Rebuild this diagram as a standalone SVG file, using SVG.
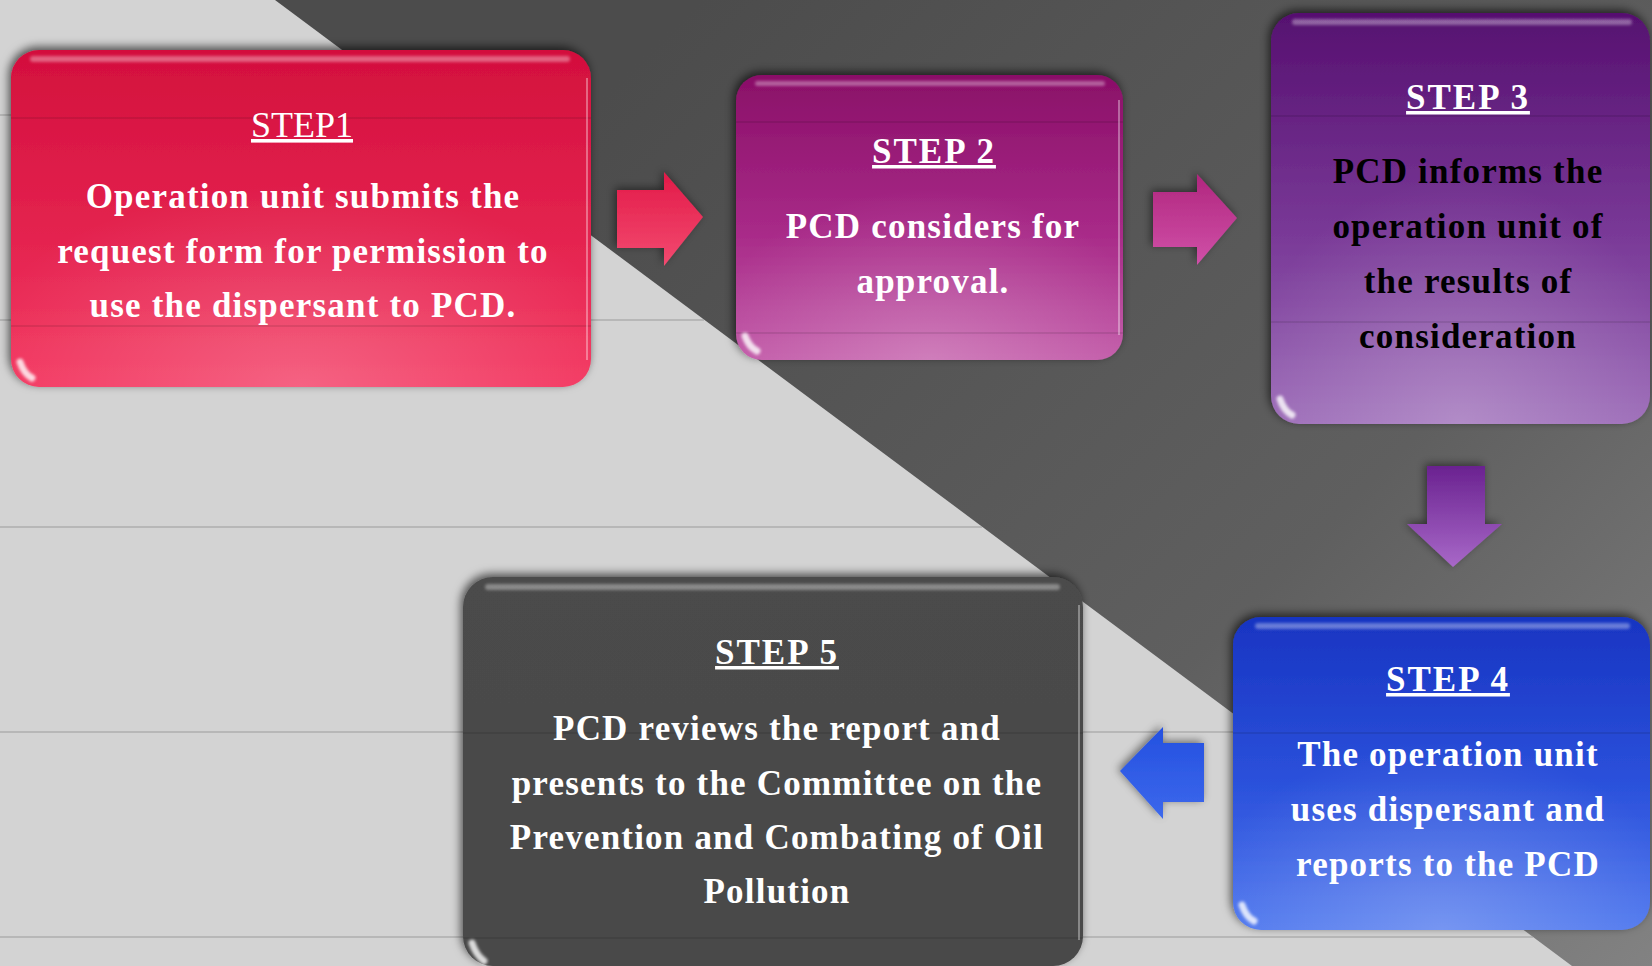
<svg xmlns="http://www.w3.org/2000/svg" width="1652" height="966" viewBox="0 0 1652 966">
<defs>
<style>
.hd{font-family:"Liberation Serif","Times New Roman",serif;font-size:35px;font-weight:bold;fill:#fff;text-anchor:middle;letter-spacing:2px;text-decoration:underline;}
.hd1{font-family:"Liberation Serif","Times New Roman",serif;font-size:36px;font-weight:normal;fill:#fff;text-anchor:middle;text-decoration:underline;}
.tx{font-family:"Liberation Serif","Times New Roman",serif;font-size:35px;font-weight:bold;fill:#fff;text-anchor:middle;letter-spacing:1.2px;}
.blk{fill:#000;}
.bgline{stroke:#9c9c9c;stroke-width:1.2;}
.inline{stroke:#000;stroke-opacity:0.12;stroke-width:1.5;}
.gloss{fill:#fff;opacity:0.35;filter:url(#soft);}
.edge{stroke:#fff;stroke-opacity:0.35;stroke-width:2;fill:none;}
.corner{fill:none;stroke:#fff;stroke-width:7;stroke-linecap:round;opacity:0.8;filter:url(#soft);}
</style>
<linearGradient id="dark" x1="700" y1="0" x2="1652" y2="966" gradientUnits="userSpaceOnUse">
<stop offset="0" stop-color="#4c4c4c"/><stop offset="0.6" stop-color="#5f5f5f"/><stop offset="1" stop-color="#828282"/>
</linearGradient>
<linearGradient id="g1" x1="0" y1="0" x2="0" y2="1"><stop offset="0" stop-color="#d30f3d"/><stop offset="0.55" stop-color="#e4234f"/><stop offset="1" stop-color="#f3365f"/></linearGradient>
<linearGradient id="g2" x1="0" y1="0" x2="0" y2="1"><stop offset="0" stop-color="#8a0f68"/><stop offset="0.55" stop-color="#a82a88"/><stop offset="1" stop-color="#c25aa8"/></linearGradient>
<linearGradient id="g3" x1="0" y1="0" x2="0" y2="1"><stop offset="0" stop-color="#561070"/><stop offset="0.55" stop-color="#7a3a98"/><stop offset="1" stop-color="#9c6cb8"/></linearGradient>
<linearGradient id="g4" x1="0" y1="0" x2="0" y2="1"><stop offset="0" stop-color="#1834c2"/><stop offset="0.55" stop-color="#2c52dc"/><stop offset="1" stop-color="#5078ee"/></linearGradient>
<linearGradient id="g5" x1="0" y1="0" x2="0" y2="1"><stop offset="0" stop-color="#4b4b4b"/><stop offset="1" stop-color="#484848"/></linearGradient>
<radialGradient id="glow" cx="0.5" cy="1" r="0.6"><stop offset="0" stop-color="#fff" stop-opacity="0.22"/><stop offset="1" stop-color="#fff" stop-opacity="0"/></radialGradient>
<linearGradient id="a1" x1="0" y1="0" x2="0" y2="1"><stop offset="0" stop-color="#e21a48"/><stop offset="1" stop-color="#f34a70"/></linearGradient>
<linearGradient id="a2" x1="0" y1="0" x2="0" y2="1"><stop offset="0" stop-color="#b0267e"/><stop offset="1" stop-color="#d050a8"/></linearGradient>
<linearGradient id="a3" x1="0" y1="0" x2="0" y2="1"><stop offset="0" stop-color="#6a2290"/><stop offset="1" stop-color="#a868c8"/></linearGradient>
<linearGradient id="a4" x1="0" y1="0" x2="0" y2="1"><stop offset="0" stop-color="#2450e0"/><stop offset="1" stop-color="#3c68ec"/></linearGradient>
<filter id="sh" x="-10%" y="-10%" width="120%" height="120%">
<feGaussianBlur in="SourceAlpha" stdDeviation="5"/>
<feOffset dx="-2" dy="-3" result="b"/>
<feFlood flood-color="#000" flood-opacity="0.65"/>
<feComposite in2="b" operator="in"/>
<feMerge><feMergeNode/><feMergeNode in="SourceGraphic"/></feMerge>
</filter>
<filter id="ash" x="-30%" y="-30%" width="160%" height="160%">
<feGaussianBlur in="SourceAlpha" stdDeviation="4"/>
<feOffset dx="-2" dy="-2" result="b"/>
<feFlood flood-color="#000" flood-opacity="0.5"/>
<feComposite in2="b" operator="in"/>
<feMerge><feMergeNode/><feMergeNode in="SourceGraphic"/></feMerge>
</filter>
<filter id="soft" x="-50%" y="-50%" width="200%" height="200%"><feGaussianBlur stdDeviation="1.5"/></filter>
</defs>

<g id="background">
<rect x="0" y="0" width="1652" height="966" fill="#d3d3d3"/>
<polygon points="275,0 1652,0 1652,966 1572,966" fill="url(#dark)"/>
<line class="bgline" x1="0" y1="115" x2="428" y2="115"/>
<line class="bgline" x1="0" y1="320" x2="704" y2="320"/>
<line class="bgline" x1="0" y1="527" x2="982" y2="527"/>
<line class="bgline" x1="0" y1="732" x2="1257" y2="732"/>
<line class="bgline" x1="0" y1="937" x2="1533" y2="937"/>
</g>

<g id="connectors">
<path d="M617,190 H664 V172 L703,217 L664,266 V248 H617 Z" fill="url(#a1)" filter="url(#ash)"/>
<path d="M1153,192 H1197 V174 L1237,218 L1197,265 V247 H1153 Z" fill="url(#a2)" filter="url(#ash)"/>
<path d="M1427,466 H1485 V524 H1502 L1453,567 L1407,524 H1427 Z" fill="url(#a3)" filter="url(#ash)"/>
<path d="M1204,743 V802 H1163 V819 L1120,771 L1163,727 V743 Z" fill="url(#a4)" filter="url(#ash)"/>
</g>

<g id="step1">
<rect x="11" y="50" width="580" height="337" rx="28" fill="url(#g1)" filter="url(#sh)"/>
<rect x="11" y="50" width="580" height="337" rx="28" fill="url(#glow)"/>
<rect class="gloss" x="30" y="56" width="540" height="6" rx="3"/>
<line class="inline" x1="11" y1="118" x2="591" y2="118"/>
<line class="inline" x1="11" y1="326" x2="591" y2="326"/>
<path class="edge" d="M587,78 V360"/>
<path class="corner" d="M20,362 Q24,374 32,378"/>
<text class="hd1" x="302" y="137">STEP1</text>
<text class="tx" x="303" y="208">Operation unit submits the</text>
<text class="tx" x="303" y="263">request form for permission to</text>
<text class="tx" x="303" y="317">use the dispersant to PCD.</text>
</g>

<g id="step2">
<rect x="736" y="75" width="387" height="285" rx="26" fill="url(#g2)" filter="url(#sh)"/>
<rect x="736" y="75" width="387" height="285" rx="26" fill="url(#glow)"/>
<rect class="gloss" x="755" y="81" width="350" height="5" rx="2.5"/>
<line class="inline" x1="736" y1="122" x2="1123" y2="122"/>
<line class="inline" x1="736" y1="333" x2="1123" y2="333"/>
<path class="edge" d="M1119,100 V335"/>
<path class="corner" d="M745,336 Q749,347 757,351"/>
<text class="hd" x="934" y="163">STEP 2</text>
<text class="tx" x="933" y="238">PCD considers for</text>
<text class="tx" x="933" y="293">approval.</text>
</g>

<g id="step3">
<rect x="1271" y="13" width="379" height="411" rx="28" fill="url(#g3)" filter="url(#sh)"/>
<rect x="1271" y="13" width="379" height="411" rx="28" fill="url(#glow)"/>
<rect class="gloss" x="1292" y="19" width="340" height="6" rx="3"/>
<line class="inline" x1="1271" y1="116" x2="1650" y2="116"/>
<line class="inline" x1="1271" y1="322" x2="1650" y2="322"/>
<path class="corner" d="M1280,399 Q1284,411 1292,415"/>
<text class="hd" x="1468" y="109">STEP 3</text>
<text class="tx blk" x="1468" y="183">PCD informs the</text>
<text class="tx blk" x="1468" y="238">operation unit of</text>
<text class="tx blk" x="1468" y="293">the results of</text>
<text class="tx blk" x="1468" y="348">consideration</text>
</g>

<g id="step4">
<rect x="1233" y="617" width="417" height="313" rx="28" fill="url(#g4)" filter="url(#sh)"/>
<rect x="1233" y="617" width="417" height="313" rx="28" fill="url(#glow)"/>
<rect class="gloss" x="1255" y="623" width="375" height="6" rx="3"/>
<line class="inline" x1="1233" y1="733" x2="1650" y2="733"/>
<path class="corner" d="M1242,905 Q1246,917 1254,921"/>
<text class="hd" x="1448" y="691">STEP 4</text>
<text class="tx" x="1448" y="766">The operation unit</text>
<text class="tx" x="1448" y="821">uses dispersant and</text>
<text class="tx" x="1448" y="876">reports to the PCD</text>
</g>

<g id="step5">
<rect x="463" y="577" width="620" height="389" rx="30" fill="url(#g5)" filter="url(#sh)"/>
<rect class="gloss" x="485" y="584" width="575" height="6" rx="3" opacity="0.25"/>
<line class="inline" x1="463" y1="733" x2="1083" y2="733"/>
<line class="inline" x1="463" y1="938" x2="1083" y2="938"/>
<path class="edge" d="M1079,605 V940" stroke-opacity="0.55"/>
<path class="corner" d="M472,943 Q476,955 484,961"/>
<text class="hd" x="777" y="664">STEP 5</text>
<text class="tx" x="777" y="740">PCD reviews the report and</text>
<text class="tx" x="777" y="795">presents to the Committee on the</text>
<text class="tx" x="777" y="849">Prevention and Combating of Oil</text>
<text class="tx" x="777" y="903">Pollution</text>
</g>
</svg>
